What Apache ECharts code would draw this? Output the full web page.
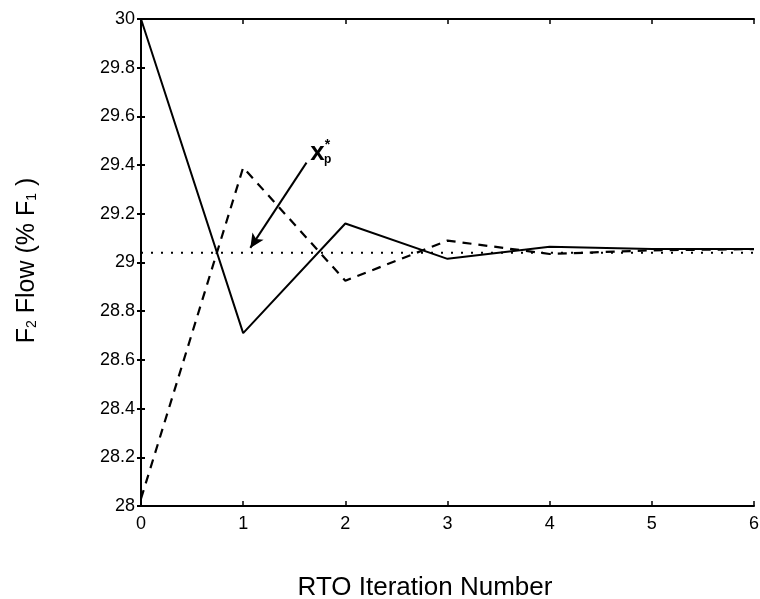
<!DOCTYPE html>
<html>
<head>
<meta charset="utf-8">
<script src="https://cdn.jsdelivr.net/npm/echarts@6/dist/echarts.min.js"></script>
<style>
  html, body { margin: 0; padding: 0; background: #fff; }
  #main { width: 760px; height: 599px; }
</style>
</head>
<body>
<div id="main"></div>
<script>
// RTO 迭代数据
var iterations = [0, 1, 2, 3, 4, 5, 6];
var solidFlow = [30, 28.71, 29.16, 29.015, 29.065, 29.055, 29.055];
var dashedFlow = [28.03, 29.39, 28.925, 29.09, 29.035, 29.05, 29.055];
var optimumFlow = [29.04, 29.04, 29.04, 29.04, 29.04, 29.04, 29.04];
// 箭头注释 (数据坐标)
var arrowFrom = [1.62, 29.41];
var arrowTo = [1.07, 29.06];
var labelAt = [1.76, 29.45];

function pairs(xs, ys) {
  return xs.map(function (x, i) { return [x, ys[i]]; });
}

var chart = echarts.init(document.getElementById('main'), null, { renderer: 'canvas' });
var font = '"Liberation Sans", Arial, sans-serif';

var axisLine = { show: true, lineStyle: { color: '#000', width: 2 } };
var xTick = { show: true, inside: true, length: 5, lineStyle: { color: '#000', width: 1.5 } };
var yTick = { show: true, inside: false, length: 4, lineStyle: { color: '#000', width: 2 } };

var option = {
  backgroundColor: '#fff',
  animation: false,
  grid: { left: 141, right: 6, top: 19, bottom: 93, containLabel: false, outerBoundsMode: 'none' },
  xAxis: [{
    type: 'value',
    min: 0, max: 6, interval: 1,
    position: 'bottom',
    axisLine: axisLine,
    axisTick: xTick,
    splitLine: { show: false },
    axisLabel: { color: '#000', fontSize: 18, fontFamily: font, margin: 9 },
    name: 'RTO Iteration Number',
    nameLocation: 'middle',
    nameGap: 69,
    nameTextStyle: { color: '#000', fontSize: 26, fontFamily: font, padding: [0, 45, 0, 0] }
  }, {
    type: 'value',
    min: 0, max: 6, interval: 1,
    position: 'top',
    axisLine: axisLine,
    axisTick: xTick,
    splitLine: { show: false },
    axisLabel: { show: false }
  }],
  yAxis: [{
    type: 'value',
    min: 28, max: 30, interval: 0.2,
    position: 'left',
    axisLine: axisLine,
    axisTick: yTick,
    splitLine: { show: false },
    axisLabel: { color: '#000', fontSize: 18, fontFamily: font, margin: 6 },
    name: 'F{sub|2} Flow (% F{sub|1} )',
    nameLocation: 'middle',
    nameGap: 101,
    nameRotate: 90,
    nameTextStyle: {
      color: '#000', fontSize: 25, fontFamily: font, padding: [0, 0, 0, 4],
      rich: { sub: { fontSize: 14, fontFamily: font, color: '#000', padding: [10, 0, 0, 0] } }
    }
  }, {
    type: 'value',
    min: 28, max: 30, interval: 0.2,
    position: 'right',
    axisLine: axisLine,
    axisTick: yTick,
    splitLine: { show: false },
    axisLabel: { show: false }
  }],
  series: [{
    name: 'optimum',
    type: 'line',
    data: pairs(iterations, optimumFlow),
    showSymbol: false,
    lineStyle: { color: '#000', width: 2.2, type: [2, 8] },
    z: 2,
    markLine: {
      silent: true,
      symbol: ['none', 'arrow'],
      symbolSize: [10, 14],
      lineStyle: { color: '#000', width: 2, type: 'solid' },
      label: { show: false },
      data: [[{ coord: arrowFrom }, { coord: arrowTo }]]
    },
    markPoint: {
      silent: true,
      symbol: 'circle',
      symbolSize: 1,
      itemStyle: { color: 'rgba(0,0,0,0)' },
      label: {
        show: true,
        position: 'inside',
        formatter: 'x{sup|*}{sub|p}',
        fontSize: 26, fontWeight: 'bold', fontFamily: font, color: '#000',
        rich: {
          sup: { fontSize: 14, fontWeight: 'bold', color: '#000', padding: [0, 0, 16, 0] },
          sub: { fontSize: 12, fontWeight: 'bold', color: '#000', padding: [14, 0, 0, -6] }
        }
      },
      data: [{ coord: labelAt }]
    }
  }, {
    name: 'solid',
    type: 'line',
    data: pairs(iterations, solidFlow),
    showSymbol: false,
    lineStyle: { color: '#000', width: 2 },
    z: 3
  }, {
    name: 'dashed',
    type: 'line',
    data: pairs(iterations, dashedFlow),
    showSymbol: false,
    lineStyle: { color: '#000', width: 2.2, type: [9, 7] },
    z: 3
  }]
};

chart.setOption(option);
</script>
</body>
</html>
